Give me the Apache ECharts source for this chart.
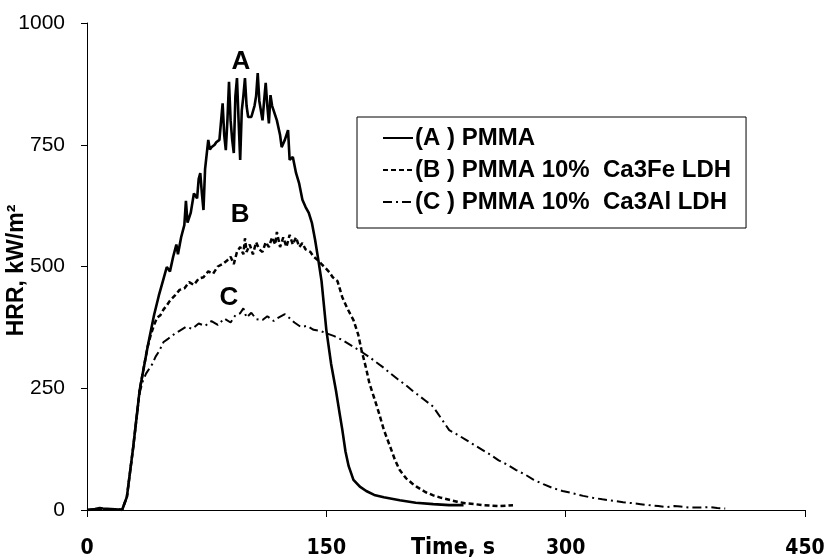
<!DOCTYPE html>
<html>
<head>
<meta charset="utf-8">
<script src="https://cdn.jsdelivr.net/npm/echarts@6/dist/echarts.min.js"></script>
<style>html,body{margin:0;padding:0;background:#fff}#c{width:824px;height:560px}</style>
</head>
<body>
<div id="c"></div>
<script>
// Time (s) and HRR (kW/m2)
var seriesNames = ['(A ) PMMA', '(B ) PMMA 10%  Ca3Fe LDH', '(C ) PMMA 10%  Ca3Al LDH'];
var xTicks = [0, 150, 300, 450];
var yTicks = [0, 250, 500, 750, 1000];

var timeA = [0,5,8,10,15,20,22,25,29,33,38,42,45,48,50,52,54,56,57,59,61,62,63,65,67,69,70,71,72,73,74,76,77,78,80,81,83,84,85,86,87,88,89,90,91,92,93,94,95,96,97,98,99,100,101,103,105,106,107,108,110,111,112,113,114,115,116,117,119,121,122,124,126,127,129,131,133,135,137,139,141,143,145,147,150,153,156,158,160,162,164,167,171,175,180,186,196,206,217,227,236];
var hrrA  = [0,2,4,3,2,1,0,27,130,246,335,400,440,475,499,490,520,545,525,560,585,635,590,610,650,640,680,692,650,616,700,760,740,745,750,755,760,760,835,770,739,800,879,800,760,733,850,887,800,719,820,850,887,830,807,807,830,850,897,840,800,840,877,830,794,852,830,820,800,770,745,760,780,719,725,692,670,637,622,610,589,554,513,470,370,300,246,205,165,120,90,62,48,39,31,26,20,15,12,10,10];

var timeB = [0,10,20,22,25,29,33,36,38,40,42,44,46,48,50,52,55,58,61,64,67,70,73,76,79,82,85,88,90,92,94,96,98,99,100,102,104,106,108,110,112,114,116,118,119,121,123,125,127,129,131,133,135,137,140,142,144,147,150,152,154,157,160,163,167,170,172,175,177,180,183,186,190,193,196,200,204,207,212,217,222,227,232,237,243,248,253,258,263,267];
var hrrB  = [0,1,1,0,27,130,246,300,335,360,380,395,400,412,420,430,440,452,455,468,462,475,478,490,485,500,505,513,520,505,530,540,525,558,530,545,525,550,535,530,550,540,560,545,571,540,560,540,565,545,560,540,548,535,530,520,515,505,495,488,478,470,437,415,390,360,329,290,260,230,199,165,130,103,82,65,54,47,37,30,25,21,17,14,12,10,9,8,9,10];

var timeC = [0,10,20,22,25,29,33,35,37,39,41,43,45,48,51,55,58,62,66,70,74,78,82,86,90,93,96,98,100,103,106,110,113,117,120,124,127,130,134,138,142,146,150,155,160,166,172,177,181,186,190,195,200,204,208,212,217,222,227,232,237,243,248,253,258,264,269,275,280,286,292,298,305,311,317,323,330,336,342,347,352,358,363,368,372,378,385,390,395,400];
var hrrC  = [0,1,1,0,27,130,240,265,280,290,300,315,325,345,352,362,368,376,372,383,378,388,380,393,385,400,404,414,395,405,392,390,398,388,395,402,394,385,376,378,370,368,363,357,349,337,325,314,304,292,281,268,256,245,235,225,212,188,164,155,145,133,123,113,102,92,82,72,62,53,45,39,34,29,25,22,19,16,14,12,10,8,6,8,7,5,5,6,4,3];

function zip(t, v) { return t.map(function (x, i) { return [x, v[i]]; }); }

var FONT = '"Liberation Sans", Arial, sans-serif';
var NARROW = '"DejaVu Sans Condensed", "Liberation Sans", sans-serif';

function mark(letter, x, y) {
  return {
    symbol: 'circle', symbolSize: 1, silent: true,
    itemStyle: { color: 'rgba(0,0,0,0)' },
    label: { show: true, position: 'inside', color: '#000', fontFamily: FONT, fontWeight: 'bold', fontSize: 26, formatter: letter },
    data: [{ coord: [x, y] }]
  };
}

var chart = echarts.init(document.getElementById('c'), null, { renderer: 'canvas' });
chart.setOption({
  animation: false,
  backgroundColor: '#fff',
  grid: { left: 87, right: 19, top: 23, bottom: 50, containLabel: false, outerBoundsMode: 'none' },
  legend: {
    orient: 'vertical',
    left: 357, top: 117,
    data: seriesNames,
    backgroundColor: '#fff',
    borderColor: '#000', borderWidth: 1, borderRadius: 0,
    padding: [9, 15, 14, 25],
    itemWidth: 30, itemHeight: 14, itemGap: 8,
    itemStyle: { color: 'rgba(0,0,0,0)', borderWidth: 0, opacity: 0 },
    textStyle: { color: '#000', fontFamily: FONT, fontWeight: 'bold', fontSize: 24, padding: [0, 0, 0, -3] }
  },
  xAxis: {
    type: 'value', min: 0, max: 450, interval: 150,
    name: 'Time, s', nameLocation: 'middle', nameGap: 27, nameMoveOverlap: false,
    nameTextStyle: { color: '#000', fontFamily: NARROW, fontWeight: 'bold', fontSize: 23, padding: [0, 0, 0, 14] },
    axisLine: { show: true, lineStyle: { color: '#000', width: 1 } },
    axisTick: { show: true, inside: false, length: 7, lineStyle: { color: '#000' } },
    axisLabel: { color: '#000', fontFamily: NARROW, fontWeight: 'bold', fontSize: 21, margin: 28,
      formatter: function (v) { return xTicks.indexOf(v) >= 0 ? String(v) : ''; } },
    splitLine: { show: false }
  },
  yAxis: {
    type: 'value', min: 0, max: 1000, interval: 250,
    name: 'HRR, kW/m²', nameLocation: 'middle', nameGap: 59, nameMoveOverlap: false,
    nameTextStyle: { color: '#000', fontFamily: FONT, fontWeight: 'bold', fontSize: 23, padding: [0, 8, 0, 0] },
    axisLine: { show: true, lineStyle: { color: '#000', width: 1 } },
    axisTick: { show: true, inside: false, length: 6, lineStyle: { color: '#000' } },
    axisLabel: { color: '#000', fontFamily: FONT, fontSize: 21, margin: 22,
      formatter: function (v) { return yTicks.indexOf(v) >= 0 ? String(v) : ''; } },
    splitLine: { show: false }
  },
  series: [
    { name: seriesNames[0], type: 'line', data: zip(timeA, hrrA), showSymbol: false, symbol: 'none',
      lineStyle: { color: '#000', width: 2.6, type: 'solid' }, itemStyle: { color: '#000' },
      markPoint: mark('A', 96.5, 920) },
    { name: seriesNames[1], type: 'line', data: zip(timeB, hrrB), showSymbol: false, symbol: 'none',
      lineStyle: { color: '#000', width: 2.5, type: [5, 3] }, itemStyle: { color: '#000' },
      markPoint: mark('B', 96, 606) },
    { name: seriesNames[2], type: 'line', data: zip(timeC, hrrC), showSymbol: false, symbol: 'none',
      lineStyle: { color: '#000', width: 2, type: [9, 4, 2, 4] }, itemStyle: { color: '#000' },
      markPoint: mark('C', 89, 435) }
  ]
});
</script>
</body>
</html>
